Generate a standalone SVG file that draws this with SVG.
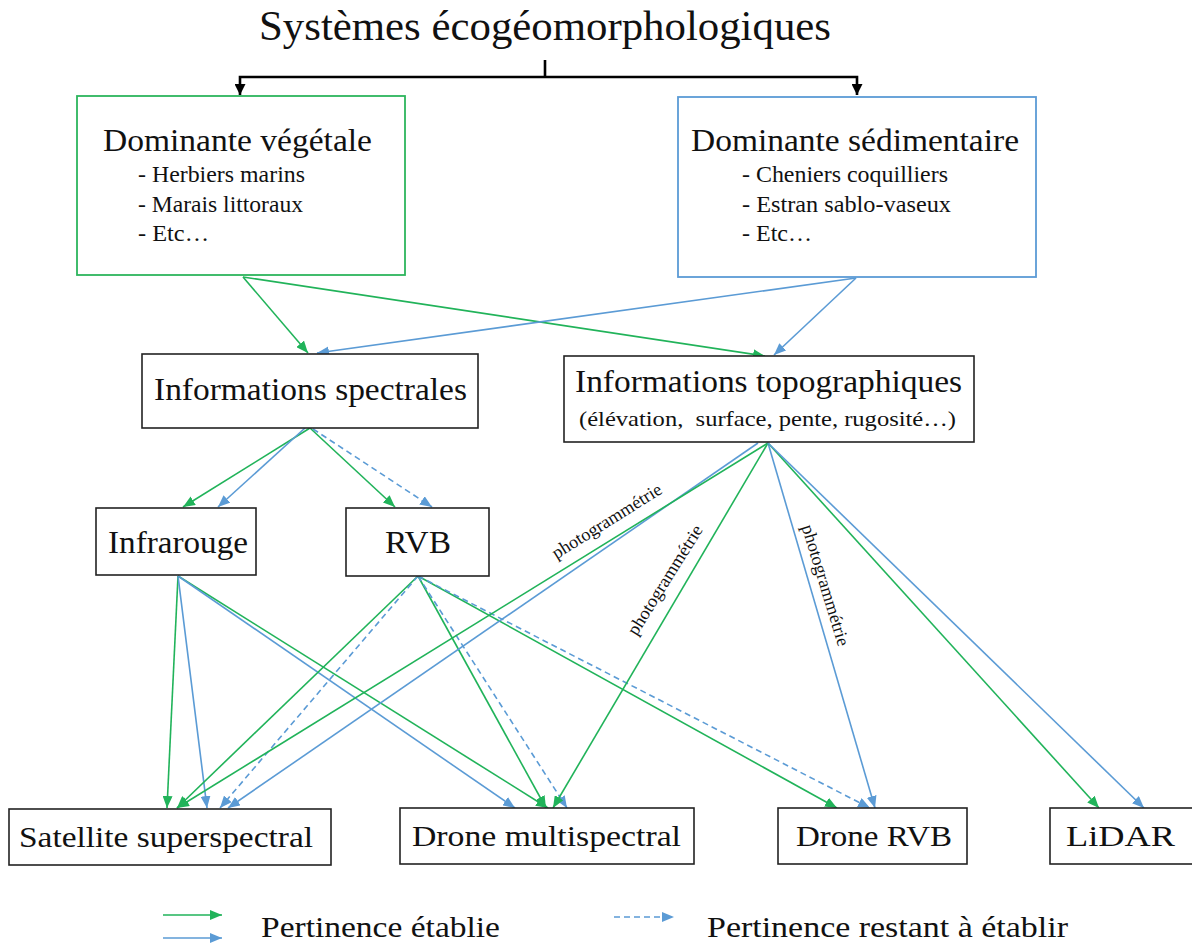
<svg xmlns="http://www.w3.org/2000/svg" width="1192" height="947" viewBox="0 0 1192 947" font-family="Liberation Serif, Times New Roman, serif">
<style>
text{font-family:'Liberation Serif','Times New Roman',Times,serif;fill:#111}
.box{fill:#fff;stroke:#222;stroke-width:1.6}
.g{stroke:#21b35a;stroke-width:1.6;fill:none;marker-end:url(#ag)}
.b{stroke:#5b9bd5;stroke-width:1.6;fill:none;marker-end:url(#ab)}
.d{stroke:#5b9bd5;stroke-width:1.6;fill:none;stroke-dasharray:6 4;marker-end:url(#ab)}
.k{stroke:#000;stroke-width:2.6;fill:none}
.lbl{font-size:18px}
</style>
<defs>
<marker id="ag" viewBox="0 0 12 10" refX="12" refY="5" markerWidth="12" markerHeight="10" markerUnits="userSpaceOnUse" orient="auto"><path d="M0,0 L12,5 L0,10 Z" fill="#21b35a"/></marker>
<marker id="ab" viewBox="0 0 12 10" refX="12" refY="5" markerWidth="12" markerHeight="10" markerUnits="userSpaceOnUse" orient="auto"><path d="M0,0 L12,5 L0,10 Z" fill="#5b9bd5"/></marker>
<marker id="ak" viewBox="0 0 11 11" refX="11" refY="5.5" markerWidth="11" markerHeight="11" markerUnits="userSpaceOnUse" orient="auto"><path d="M0,0 L11,5.5 L0,11 Z" fill="#000"/></marker>
</defs>
<rect width="1192" height="947" fill="#fff"/>

<g id="title">
<text x="259" y="40" font-size="42" textLength="572" lengthAdjust="spacingAndGlyphs">Systèmes écogéomorphologiques</text>
</g>

<g id="connectors">
<path class="k" d="M545,60 V77"/>
<path class="k" d="M545,77 H240 V95" marker-end="url(#ak)"/>
<path class="k" d="M545,77 H857 V95" marker-end="url(#ak)"/>

<line class="g" x1="243" y1="277" x2="308" y2="353"/>
<line class="g" x1="243" y1="277" x2="765" y2="356"/>
<line class="b" x1="856" y1="278" x2="317" y2="353"/>
<line class="b" x1="856" y1="278" x2="774" y2="355"/>

<line class="g" x1="310" y1="428" x2="183" y2="507"/>
<line class="b" x1="305" y1="428" x2="218" y2="507"/>
<line class="g" x1="310" y1="428" x2="395" y2="507"/>
<line class="d" x1="313" y1="429" x2="432" y2="507"/>

<line class="g" x1="178" y1="576" x2="167" y2="808"/>
<line class="b" x1="178" y1="576" x2="207" y2="808"/>
<line class="g" x1="178" y1="576" x2="548" y2="808"/>
<line class="b" x1="178" y1="576" x2="515" y2="808"/>

<line class="g" x1="418" y1="576" x2="177" y2="808"/>
<line class="d" x1="418" y1="576" x2="220" y2="808"/>
<line class="g" x1="418" y1="576" x2="546" y2="808"/>
<line class="d" x1="418" y1="576" x2="567" y2="808"/>
<line class="g" x1="418" y1="576" x2="837" y2="808"/>
<line class="d" x1="418" y1="576" x2="870" y2="808"/>

<line class="b" x1="758" y1="443" x2="228" y2="808"/>
<line class="g" x1="768" y1="443" x2="177" y2="808"/>
<line class="g" x1="768" y1="443" x2="553" y2="808"/>
<line class="b" x1="768" y1="443" x2="875" y2="808"/>
<line class="g" x1="768" y1="443" x2="1099" y2="808"/>
<line class="b" x1="768" y1="443" x2="1144" y2="808"/>

<text class="lbl" x="610" y="526" text-anchor="middle" transform="rotate(-32 610 526)" textLength="126" lengthAdjust="spacingAndGlyphs">photogrammétrie</text>
<text class="lbl" x="670" y="583" text-anchor="middle" transform="rotate(-58 670 583)" textLength="126" lengthAdjust="spacingAndGlyphs">photogrammétrie</text>
<text class="lbl" x="820" y="587" text-anchor="middle" transform="rotate(73 820 587)" textLength="126" lengthAdjust="spacingAndGlyphs">photogrammétrie</text>
</g>

<g id="veg">
<rect x="77" y="96" width="328" height="179" fill="#fff" stroke="#2db55d" stroke-width="1.8"/>
<text x="103" y="151" font-size="32" textLength="269" lengthAdjust="spacingAndGlyphs">Dominante végétale</text>
<text x="138" y="182" font-size="23" textLength="167" lengthAdjust="spacingAndGlyphs">- Herbiers marins</text>
<text x="138" y="212" font-size="23" textLength="165" lengthAdjust="spacingAndGlyphs">- Marais littoraux</text>
<text x="138" y="241" font-size="23" textLength="71" lengthAdjust="spacingAndGlyphs">- Etc…</text>
</g>

<g id="sed">
<rect x="678" y="97" width="358" height="180" fill="#fff" stroke="#5b9bd5" stroke-width="1.8"/>
<text x="691" y="151" font-size="32" textLength="328" lengthAdjust="spacingAndGlyphs">Dominante sédimentaire</text>
<text x="742" y="182" font-size="23" textLength="206" lengthAdjust="spacingAndGlyphs">- Cheniers coquilliers</text>
<text x="742" y="212" font-size="23" textLength="209" lengthAdjust="spacingAndGlyphs">- Estran sablo-vaseux</text>
<text x="742" y="241" font-size="23" textLength="70" lengthAdjust="spacingAndGlyphs">- Etc…</text>
</g>

<g id="spectral">
<rect class="box" x="142" y="354" width="336" height="74"/>
<text x="154" y="400" font-size="31" textLength="313" lengthAdjust="spacingAndGlyphs">Informations spectrales</text>
</g>

<g id="topo">
<rect class="box" x="564" y="356" width="410" height="86"/>
<text x="575" y="392" font-size="31" textLength="387" lengthAdjust="spacingAndGlyphs">Informations topographiques</text>
<text x="579" y="426" font-size="22" textLength="377" lengthAdjust="spacingAndGlyphs" style="white-space:pre">(élévation,  surface, pente, rugosité…)</text>
</g>

<g id="infrarouge">
<rect class="box" x="96" y="508" width="160" height="67"/>
<text x="108" y="553" font-size="31" textLength="140" lengthAdjust="spacingAndGlyphs">Infrarouge</text>
</g>

<g id="rvb">
<rect class="box" x="346" y="508" width="143" height="68"/>
<text x="385" y="553" font-size="31" textLength="66" lengthAdjust="spacingAndGlyphs">RVB</text>
</g>

<g id="satellite">
<rect class="box" x="9" y="809" width="322" height="56"/>
<text x="19" y="847" font-size="30" textLength="294" lengthAdjust="spacingAndGlyphs">Satellite superspectral</text>
</g>

<g id="dronems">
<rect class="box" x="400" y="808" width="294" height="56"/>
<text x="412" y="846" font-size="30" textLength="269" lengthAdjust="spacingAndGlyphs">Drone multispectral</text>
</g>

<g id="dronervb">
<rect class="box" x="778" y="808" width="189" height="56"/>
<text x="796" y="846" font-size="30" textLength="156" lengthAdjust="spacingAndGlyphs">Drone RVB</text>
</g>

<g id="lidar">
<rect class="box" x="1050" y="808" width="150" height="56"/>
<text x="1066" y="846" font-size="30" textLength="109" lengthAdjust="spacingAndGlyphs">LiDAR</text>
</g>

<g id="legend">
<line class="g" x1="163" y1="915" x2="222" y2="915"/>
<line class="b" x1="163" y1="938" x2="222" y2="938"/>
<text x="261" y="937" font-size="29" textLength="239" lengthAdjust="spacingAndGlyphs">Pertinence établie</text>
<line class="d" x1="614" y1="917" x2="674" y2="917"/>
<text x="707" y="937" font-size="29" textLength="361" lengthAdjust="spacingAndGlyphs">Pertinence restant à établir</text>
</g>
</svg>
